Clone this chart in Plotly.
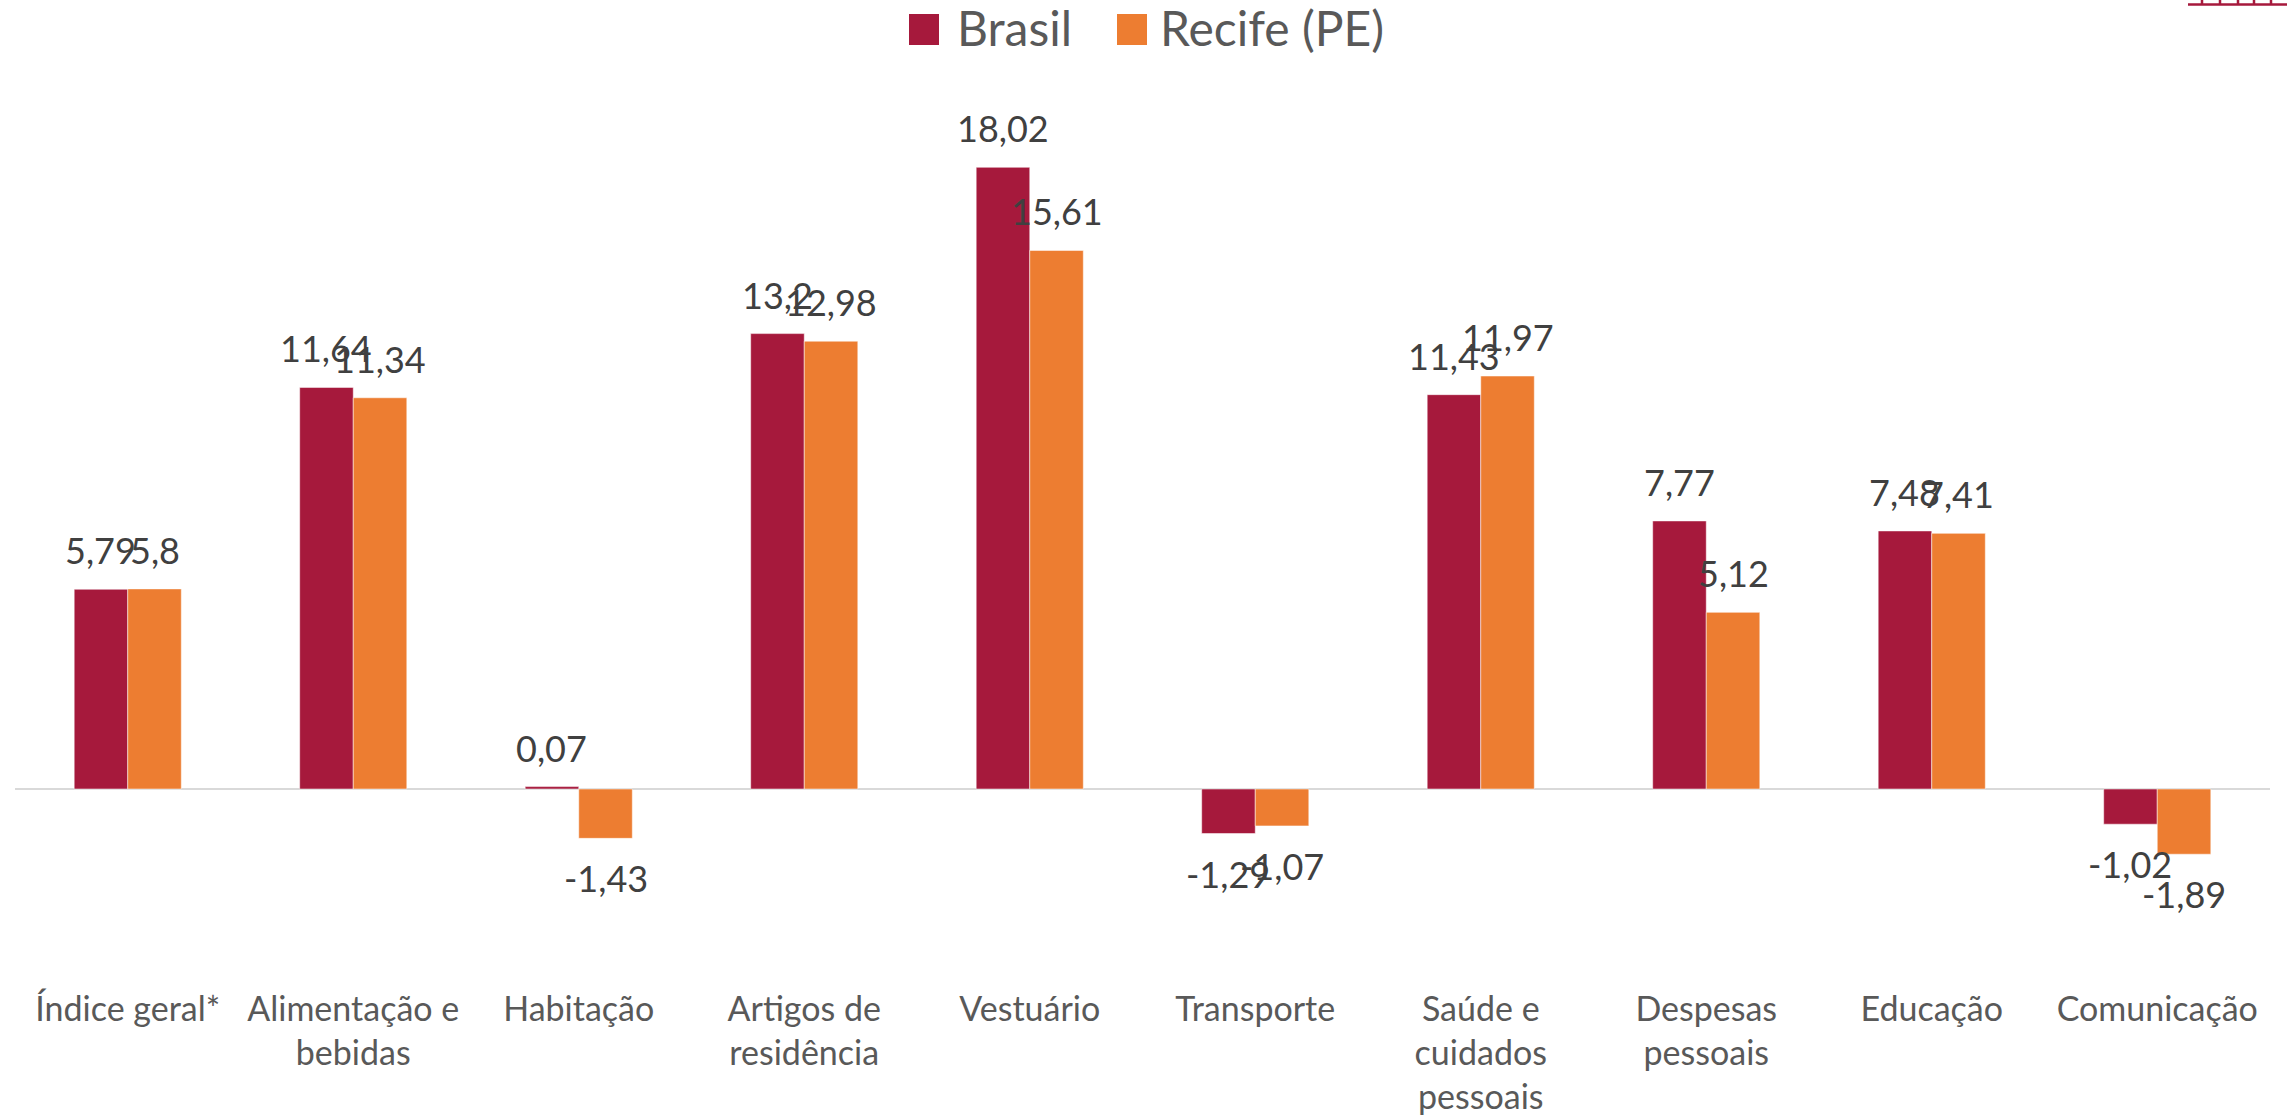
import plotly.graph_objects as go

categories = ["Índice geral*", "Alimentação e bebidas", "Habitação", "Artigos de residência",
              "Vestuário", "Transporte", "Saúde e cuidados pessoais", "Despesas pessoais",
              "Educação", "Comunicação"]
tick_labels = ["Índice geral*", "Alimentação e<br>bebidas", "Habitação", "Artigos de<br>residência",
               "Vestuário", "Transporte", "Saúde e<br>cuidados<br>pessoais", "Despesas<br>pessoais",
               "Educação", "Comunicação"]
brasil = [5.79, 11.64, 0.07, 13.2, 18.02, -1.29, 11.43, 7.77, 7.48, -1.02]
recife = [5.8, 11.34, -1.43, 12.98, 15.61, -1.07, 11.97, 5.12, 7.41, -1.89]
series_names = ["Brasil", "Recife (PE)"]
colors = ["#A6193C", "#ED7D31"]

FONT = "Lato"
W, H = 2287, 1118
ML, MR, MT, MB = 15, 17, 90, 1118 - 986
ZERO_PX, PX_PER_UNIT = 789, 34.5
BARGAP = 0.525

fig = go.Figure()
for name, vals, col in zip(series_names, [brasil, recife], colors):
    fig.add_trace(go.Bar(
        x=categories, y=vals, name=name,
        marker=dict(color=col, line=dict(width=1, color="rgba(255,255,255,0.5)")),
        showlegend=False, hoverinfo="x+y"))

def fmt(v):
    s = ("%.2f" % v).rstrip("0").rstrip(".")
    return s.replace(".", ",")

bw = (1 - BARGAP) / 2
annotations = []
for si, vals in enumerate([brasil, recife]):
    off = (si - 0.5) * bw
    for i, v in enumerate(vals):
        pos = v >= 0
        annotations.append(dict(
            x=i + off, y=v, xref="x", yref="y", text=fmt(v), showarrow=False,
            yanchor="bottom" if pos else "top", yshift=15 if pos else -16,
            font=dict(family=FONT, size=36, color="#404040")))

# legend (manual, to match large square keys)
ph = H - MT - MB
pw = W - ML - MR
def px2x(px):
    return (px - ML) / pw
def py2y(py):
    return (H - MB - py) / ph

legend_items = [(909, 958), (1117, 1161)]
shapes = []
for (sq_x, tx_x), name, col in zip(legend_items, series_names, colors):
    shapes.append(dict(type="rect", xref="paper", yref="paper",
                       x0=px2x(sq_x), x1=px2x(sq_x + 30), y0=py2y(45), y1=py2y(14),
                       fillcolor=col, line=dict(width=0)))
    annotations.append(dict(x=px2x(tx_x), y=py2y(27), xref="paper", yref="paper", text=name,
                            showarrow=False, xanchor="left", yanchor="middle", xshift=-3,
                            font=dict(family=FONT, size=48, color="#595959")))

# decorative fragment at top-right corner
path = "M %f,%f L %f,%f" % (px2x(2188), py2y(4.5), px2x(2290), py2y(4.5))
for tx in [2202, 2220, 2238, 2254, 2271]:
    path += " M %f,%f L %f,%f" % (px2x(tx), py2y(4.5), px2x(tx), py2y(-2))
shapes.append(dict(type="path", xref="paper", yref="paper", path=path,
                   line=dict(color="#A6193C", width=2.5)))

fig.update_layout(
    width=W, height=H,
    margin=dict(l=ML, r=MR, t=MT, b=MB, pad=0, autoexpand=False),
    paper_bgcolor="white", plot_bgcolor="white",
    barmode="group", bargap=BARGAP, bargroupgap=0,
    showlegend=False,
    annotations=annotations, shapes=shapes,
    xaxis=dict(tickmode="array", tickvals=categories, ticktext=tick_labels,
               tickfont=dict(family=FONT, size=34, color="#595959"), automargin=False,
               showgrid=False, showline=False, ticks="", zeroline=False),
    yaxis=dict(range=[-(H - MB - ZERO_PX) / PX_PER_UNIT, (ZERO_PX - MT) / PX_PER_UNIT],
               showticklabels=False, showgrid=False, ticks="", automargin=False,
               zeroline=True, zerolinecolor="#D9D9D9", zerolinewidth=2),
)

fig.write_html("out.html", config={"displayModeBar": False},
               post_script="document.body.style.margin='0';")
